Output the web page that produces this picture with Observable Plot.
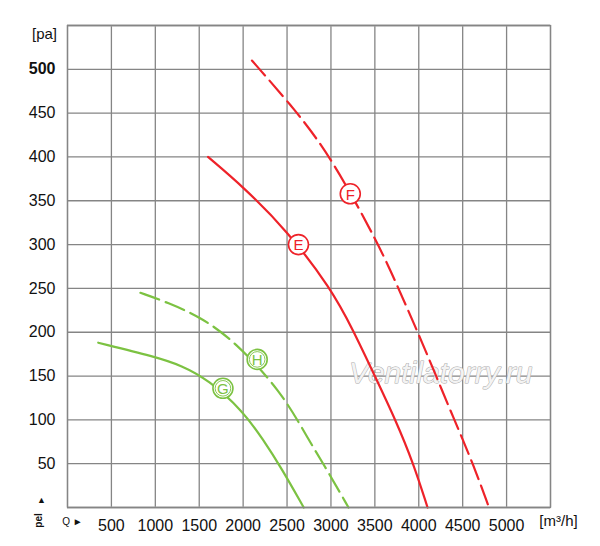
<!DOCTYPE html>
<html>
<head>
<meta charset="utf-8">
<script src="https://cdn.jsdelivr.net/npm/d3@7"></script>
<script src="https://cdn.jsdelivr.net/npm/@observablehq/plot@0.6"></script>
<style>
  html, body { margin: 0; padding: 0; background: #fff; }
</style>
</head>
<body>
<div id="chart"></div>
<script>
// Tick values
const qTicks = [500, 1000, 1500, 2000, 2500, 3000, 3500, 4000, 4500, 5000];
const pTicks = [50, 100, 150, 200, 250, 300, 350, 400, 450, 500];
const qGrid = [0, 500, 1000, 1500, 2000, 2500, 3000, 3500, 4000, 4500, 5000, 5500];
const pGrid = [50, 100, 150, 200, 250, 300, 350, 400, 450, 500];

// Curve E (solid red)
const eQ = [1600, 2000, 2500, 3000, 3250, 3500, 3740, 3940, 4100];
const eP = [400, 366, 316, 250, 203, 150, 99, 50, 0];
// Curve F (dashed red)
const fQ = [2100, 2600, 3000, 3550, 3760, 3980, 4190, 4400, 4610, 4800];
const fP = [510, 453, 400, 299, 252, 202, 152, 101, 52, 0];
// Curve G (solid green)
const gQ = [350, 1000, 1300, 1600, 2000, 2230, 2430, 2690];
const gP = [188, 172, 162, 146, 110, 77, 46, 0];
// Curve H (dashed green)
const hQ = [830, 1140, 1520, 1900, 2430, 2730, 2960, 3200];
const hP = [245, 234, 217, 190, 133, 80, 42, 0];

// Curve labels
const labelNames = ["E", "F", "G", "H"];
const labelQ = [2630, 3220, 1770, 2160];
const labelP = [300, 358, 136, 169];

const RED = "#ee2229";
const GREEN = "#7cc242";

const toRows = (qs, ps) => qs.map((q, i) => ({q, p: ps[i]}));
const E = toRows(eQ, eP), F = toRows(fQ, fP), G = toRows(gQ, gP), H = toRows(hQ, hP);
const labels = labelNames.map((n, i) => ({n, q: labelQ[i], p: labelP[i], c: (n === "E" || n === "F") ? RED : GREEN}));
const greenLabels = labels.filter(d => d.c === GREEN);

const font = "'Liberation Sans', Arial, Helvetica, sans-serif";
const CURVE = "basis";

const chart = Plot.plot({
  width: 600,
  height: 546,
  marginLeft: 67,
  marginRight: 50,
  marginTop: 25,
  marginBottom: 39,
  x: {domain: [0, 5500]},
  y: {domain: [0, 550]},
  style: {fontFamily: font, background: "#fff", color: "#111"},
  marks: [
    Plot.ruleX(qGrid, {stroke: "#858585", strokeWidth: 1.3}),
    Plot.ruleY(pGrid, {stroke: "#858585", strokeWidth: 1.3}),
    Plot.ruleY([0, 550], {stroke: "#a8a8a8", strokeWidth: 2.2}),
    Plot.text(["Ventilatorry.ru"], {x: 4250, y: 153, text: d => d, fontSize: 30, fontStyle: "italic",
      fill: "#f3f3f3", stroke: "#aaaaaa", strokeWidth: 1, textAnchor: "middle"}),
    Plot.line(G, {x: "q", y: "p", stroke: GREEN, strokeWidth: 2.2, curve: CURVE}),
    Plot.line(H, {x: "q", y: "p", stroke: GREEN, strokeWidth: 2.2, curve: CURVE, strokeDasharray: "20,7"}),
    Plot.line(E, {x: "q", y: "p", stroke: RED, strokeWidth: 2.2, curve: CURVE}),
    Plot.line(F, {x: "q", y: "p", stroke: RED, strokeWidth: 2.2, curve: CURVE, strokeDasharray: "20,7"}),
    Plot.dot(labels, {x: "q", y: "p", r: 10, fill: "#fff", stroke: "c", strokeWidth: 1.6}),
    Plot.dot(greenLabels, {x: "q", y: "p", r: 7.8, fill: "none", stroke: "c", strokeWidth: 0.9}),
    Plot.text(labels, {x: "q", y: "p", text: "n", fill: "c", fontSize: 15, dy: 1}),
    Plot.axisX(qTicks, {tickSize: 0, tickPadding: 12, fontSize: 16, label: null, fill: "#111", tickFormat: d => String(d)}),
    Plot.axisY(pTicks.filter(d => d < 500), {tickSize: 0, tickPadding: 12, fontSize: 16, label: null, fill: "#111", tickFormat: d => String(d)}),
    Plot.text([500], {y: d => d, frameAnchor: "left", dx: -12, textAnchor: "end", fontSize: 16, fontWeight: "bold", fill: "#111"}),
    Plot.text(["[pa]"], {frameAnchor: "top-left", dx: -23, dy: 3, textAnchor: "middle", fontSize: 15, fill: "#111"}),
    Plot.text(["[m³/h]"], {frameAnchor: "bottom-right", dx: 8, dy: 18, textAnchor: "middle", fontSize: 15, fill: "#111"}),
    Plot.text(["Q ►"], {frameAnchor: "bottom-left", dx: 5, dy: 17, textAnchor: "middle", fontSize: 10, fill: "#111"}),
    Plot.text(["pel"], {frameAnchor: "bottom-left", dx: -26, dy: 13, rotate: -90, textAnchor: "middle", fontSize: 10, fontWeight: "bold", fill: "#111"}),
    Plot.text(["▲"], {frameAnchor: "bottom-left", dx: -26, dy: -5, textAnchor: "middle", fontSize: 9, fill: "#111"}),
    Plot.frame({stroke: "#858585", strokeWidth: 1.3})
  ]
});
document.getElementById("chart").appendChild(chart);
</script>
</body>
</html>
